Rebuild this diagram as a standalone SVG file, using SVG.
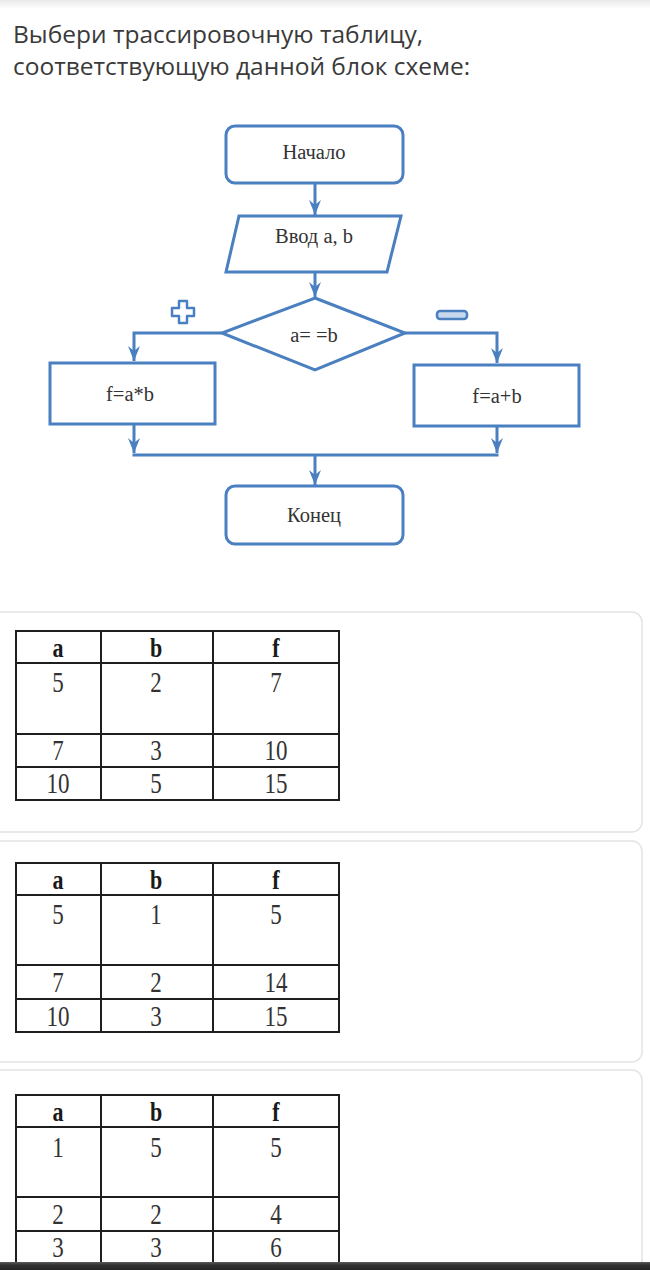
<svg xmlns="http://www.w3.org/2000/svg" width="650" height="1270" viewBox="0 0 650 1270">
<defs>
<linearGradient id="topShade" x1="0" y1="0" x2="0" y2="1">
<stop offset="0" stop-color="#e9e9e9"/>
<stop offset="1" stop-color="#ffffff"/>
</linearGradient>
<linearGradient id="botBar" x1="0" y1="0" x2="0" y2="1">
<stop offset="0" stop-color="#5a5a5a"/>
<stop offset="0.4" stop-color="#303030"/>
<stop offset="1" stop-color="#262626"/>
</linearGradient>
<marker id="arr" viewBox="-16 -8 18 16" refX="0" refY="0" markerWidth="18" markerHeight="16" markerUnits="userSpaceOnUse" orient="auto">
<path d="M0,0 L-15,-6 L-10,0 L-15,6 Z" fill="#4a7fc0"/>
</marker>
</defs>
<style>
.title{font-family:"Open Sans","Noto Sans",sans-serif;font-size:24.5px;fill:#3a3a3a}
.shape{fill:#ffffff;stroke:#4a7fc0;stroke-width:3}
.conn{fill:none;stroke:#4a7fc0;stroke-width:3}
.fc{font-family:"Liberation Serif","DejaVu Serif",serif;font-size:20.5px;fill:#333333;text-anchor:middle}
.card{fill:#ffffff;stroke:#e4e4e4;stroke-width:1.5}
.grid{fill:none;stroke:#1e1e1e;stroke-width:2}
.th{font-family:"Liberation Serif","DejaVu Serif",serif;font-size:22px;font-weight:bold;fill:#1a1a1a;text-anchor:middle}
.td{font-family:"Liberation Serif","DejaVu Serif",serif;font-size:23px;fill:#333333;text-anchor:middle}
</style>
<rect x="0" y="0" width="650" height="1270" fill="#ffffff"/>
<rect x="0" y="0" width="650" height="9" fill="url(#topShade)"/>
<text class="title" x="13" y="43">Выбери трассировочную таблицу,</text>
<text class="title" x="13" y="75">соответствующую данной блок схеме:</text>

<g id="connectors">
<line class="conn" x1="315" y1="184" x2="315" y2="215" marker-end="url(#arr)"/>
<line class="conn" x1="315" y1="272" x2="315" y2="297" marker-end="url(#arr)"/>
<polyline class="conn" points="222,333 134,333 134,361" marker-end="url(#arr)"/>
<polyline class="conn" points="405,333 497,333 497,363" marker-end="url(#arr)"/>
<line class="conn" x1="134" y1="424" x2="134" y2="453" marker-end="url(#arr)"/>
<line class="conn" x1="497" y1="426" x2="497" y2="453" marker-end="url(#arr)"/>
<line class="conn" x1="132.5" y1="455" x2="498.5" y2="455"/>
<line class="conn" x1="315" y1="455" x2="315" y2="485" marker-end="url(#arr)"/>
</g>

<g id="start">
<rect class="shape" x="226" y="126" width="177" height="57" rx="9"/>
<text class="fc" x="314" y="159">Начало</text>
</g>
<g id="input">
<polygon class="shape" points="239,216 401,216 387,272 226,272"/>
<text class="fc" x="314" y="243">Ввод a, b</text>
</g>
<g id="decision">
<polygon class="shape" points="315,298 405,333 315,370 222,333"/>
<text class="fc" x="314" y="342">a= =b</text>
</g>
<g id="yes-label">
<path d="M179,301 h8 v7 h7 v8 h-7 v7 h-8 v-7 h-7 v-8 h7 z" fill="#ffffff" stroke="#4a7fc0" stroke-width="2.5" stroke-linejoin="round"/>
</g>
<g id="no-label">
<rect x="437" y="311" width="30" height="8" rx="3" fill="#c9d8ee" stroke="#4a7fc0" stroke-width="2.5"/>
</g>
<g id="mult">
<rect class="shape" x="50" y="363" width="165" height="61"/>
<text class="fc" x="130" y="401">f=a*b</text>
</g>
<g id="sum">
<rect class="shape" x="414" y="365" width="165" height="61"/>
<text class="fc" x="497" y="403">f=a+b</text>
</g>
<g id="end">
<rect class="shape" x="226" y="486" width="177" height="58" rx="9"/>
<text class="fc" x="314" y="522">Конец</text>
</g>

<g id="option1">
<rect class="card" x="-12" y="612" width="654" height="220" rx="10"/>
<rect class="grid" x="16" y="631" width="323" height="169"/>
<line class="grid" x1="101" y1="631" x2="101" y2="800"/>
<line class="grid" x1="213" y1="631" x2="213" y2="800"/>
<line class="grid" x1="16" y1="663" x2="339" y2="663"/>
<line class="grid" x1="16" y1="734" x2="339" y2="734"/>
<line class="grid" x1="16" y1="767" x2="339" y2="767"/>
<g transform="matrix(1 0 0 1.2 0 -131.4)"><text class="th" x="58" y="657">a</text><text class="th" x="156" y="657">b</text><text class="th" x="276" y="657">f</text></g>
<g transform="matrix(1 0 0 1.3 0 -207.6)"><text class="td" x="58" y="692">5</text><text class="td" x="156" y="692">2</text><text class="td" x="276" y="692">7</text></g>
<g transform="matrix(1 0 0 1.3 0 -228)"><text class="td" x="58" y="760">7</text><text class="td" x="156" y="760">3</text><text class="td" x="276" y="760">10</text></g>
<g transform="matrix(1 0 0 1.3 0 -237.9)"><text class="td" x="58" y="793">10</text><text class="td" x="156" y="793">5</text><text class="td" x="276" y="793">15</text></g>
</g>

<g id="option2">
<rect class="card" x="-12" y="841" width="654" height="221" rx="10"/>
<rect class="grid" x="16" y="863" width="323" height="169"/>
<line class="grid" x1="101" y1="863" x2="101" y2="1032"/>
<line class="grid" x1="213" y1="863" x2="213" y2="1032"/>
<line class="grid" x1="16" y1="895" x2="339" y2="895"/>
<line class="grid" x1="16" y1="965" x2="339" y2="965"/>
<line class="grid" x1="16" y1="999" x2="339" y2="999"/>
<g transform="matrix(1 0 0 1.2 0 -177.8)"><text class="th" x="58" y="889">a</text><text class="th" x="156" y="889">b</text><text class="th" x="276" y="889">f</text></g>
<g transform="matrix(1 0 0 1.3 0 -277.2)"><text class="td" x="58" y="924">5</text><text class="td" x="156" y="924">1</text><text class="td" x="276" y="924">5</text></g>
<g transform="matrix(1 0 0 1.3 0 -297.6)"><text class="td" x="58" y="992">7</text><text class="td" x="156" y="992">2</text><text class="td" x="276" y="992">14</text></g>
<g transform="matrix(1 0 0 1.3 0 -307.8)"><text class="td" x="58" y="1026">10</text><text class="td" x="156" y="1026">3</text><text class="td" x="276" y="1026">15</text></g>
</g>

<g id="option3">
<rect class="card" x="-12" y="1070" width="654" height="230" rx="10"/>
<rect class="grid" x="16" y="1095" width="323" height="168"/>
<line class="grid" x1="101" y1="1095" x2="101" y2="1263"/>
<line class="grid" x1="213" y1="1095" x2="213" y2="1263"/>
<line class="grid" x1="16" y1="1127" x2="339" y2="1127"/>
<line class="grid" x1="16" y1="1197" x2="339" y2="1197"/>
<line class="grid" x1="16" y1="1231" x2="339" y2="1231"/>
<g transform="matrix(1 0 0 1.2 0 -224.2)"><text class="th" x="58" y="1121">a</text><text class="th" x="156" y="1121">b</text><text class="th" x="276" y="1121">f</text></g>
<g transform="matrix(1 0 0 1.3 0 -347.1)"><text class="td" x="58" y="1157">1</text><text class="td" x="156" y="1157">5</text><text class="td" x="276" y="1157">5</text></g>
<g transform="matrix(1 0 0 1.3 0 -367.2)"><text class="td" x="58" y="1224">2</text><text class="td" x="156" y="1224">2</text><text class="td" x="276" y="1224">4</text></g>
<g transform="matrix(1 0 0 1.3 0 -377.1)"><text class="td" x="58" y="1257">3</text><text class="td" x="156" y="1257">3</text><text class="td" x="276" y="1257">6</text></g>
</g>

<rect x="0" y="1262" width="650" height="8" fill="url(#botBar)"/>
</svg>
